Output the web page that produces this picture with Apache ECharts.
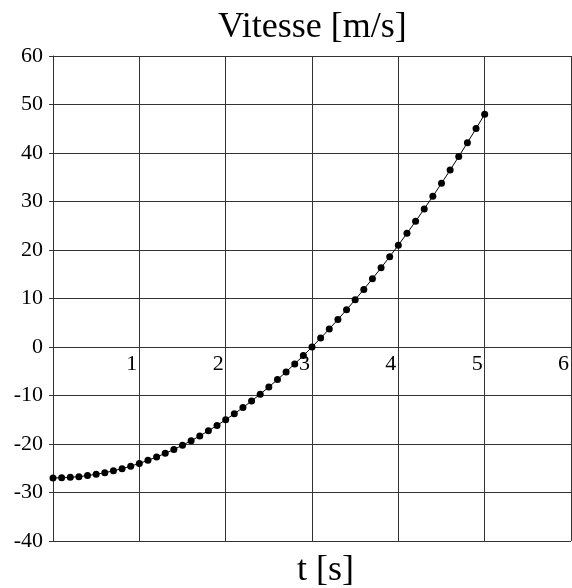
<!DOCTYPE html>
<html>
<head>
<meta charset="utf-8">
<script src="https://cdn.jsdelivr.net/npm/echarts@6/dist/echarts.min.js"></script>
<style>
  html, body { margin: 0; padding: 0; background: #fff; }
  #main { width: 572px; height: 588px; }
</style>
</head>
<body>
<div id="main"></div>
<script>
// temps [s]
var tValues = [0, 0.1, 0.2, 0.3, 0.4, 0.5, 0.6, 0.7, 0.8, 0.9,
  1, 1.1, 1.2, 1.3, 1.4, 1.5, 1.6, 1.7, 1.8, 1.9,
  2, 2.1, 2.2, 2.3, 2.4, 2.5, 2.6, 2.7, 2.8, 2.9,
  3, 3.1, 3.2, 3.3, 3.4, 3.5, 3.6, 3.7, 3.8, 3.9,
  4, 4.1, 4.2, 4.3, 4.4, 4.5, 4.6, 4.7, 4.8, 4.9, 5]
// vitesse [m/s]
var vValues = [-27, -26.97, -26.88, -26.73, -26.52, -26.25, -25.92, -25.53, -25.08, -24.57,
  -24, -23.37, -22.68, -21.93, -21.12, -20.25, -19.32, -18.33, -17.28, -16.17,
  -15, -13.77, -12.48, -11.13, -9.72, -8.25, -6.72, -5.13, -3.48, -1.77,
  0, 1.83, 3.72, 5.67, 7.68, 9.75, 11.88, 14.07, 16.32, 18.63,
  21, 23.43, 25.92, 28.47, 31.08, 33.75, 36.48, 39.27, 42.12, 45.03, 48]

var points = []
for (var i = 0; i < tValues.length; i++) {
  points.push([tValues[i], vValues[i]])
}

var serif = 'Liberation Serif'
var dom = document.getElementById('main')
var myChart = echarts.init(dom, null, { renderer: 'canvas' })

var option = {
  backgroundColor: '#fff',
  animation: false,
  title: [{
    text: 'Vitesse [m/s]',
    left: 218,
    top: 10,
    padding: 0,
    textStyle: { fontFamily: serif, fontSize: 36, fontWeight: 'normal', color: '#000' }
  }, {
    text: 't [s]',
    left: 297,
    top: 553,
    padding: 0,
    textStyle: { fontFamily: serif, fontSize: 36, fontWeight: 'normal', color: '#000' }
  }],
  grid: { left: 53, right: 0, top: 56, bottom: 47, containLabel: false },
  xAxis: {
    type: 'value',
    min: 0,
    max: 6,
    interval: 1,
    position: 'bottom',
    // 轴放在 v = 0 那条线上
    offset: -194,
    axisLine: { show: true, onZero: false, lineStyle: { color: '#333', width: 1 } },
    axisTick: { show: false },
    axisLabel: {
      color: '#000',
      fontFamily: serif,
      fontSize: 22,
      align: 'right',
      margin: 6,
      padding: [0, 2, 0, 0],
      formatter: function (v) { return v === 0 ? '' : String(v) }
    },
    splitLine: { show: true, lineStyle: { color: '#333', width: 1 } }
  },
  yAxis: {
    type: 'value',
    min: -40,
    max: 60,
    interval: 10,
    axisLine: { show: true, onZero: false, lineStyle: { color: '#333', width: 1 } },
    axisTick: { show: true, length: 4, lineStyle: { color: '#333' } },
    axisLabel: { color: '#000', fontFamily: serif, fontSize: 22, margin: 10, padding: [0, 0, 5, 0] },
    splitLine: { show: true, lineStyle: { color: '#333', width: 1 } }
  },
  series: [{
    type: 'line',
    data: points,
    symbol: 'circle',
    symbolSize: 7,
    showSymbol: true,
    lineStyle: { color: '#000', width: 1 },
    itemStyle: { color: '#000' }
  }]
}

myChart.setOption(option)
</script>
</body>
</html>
